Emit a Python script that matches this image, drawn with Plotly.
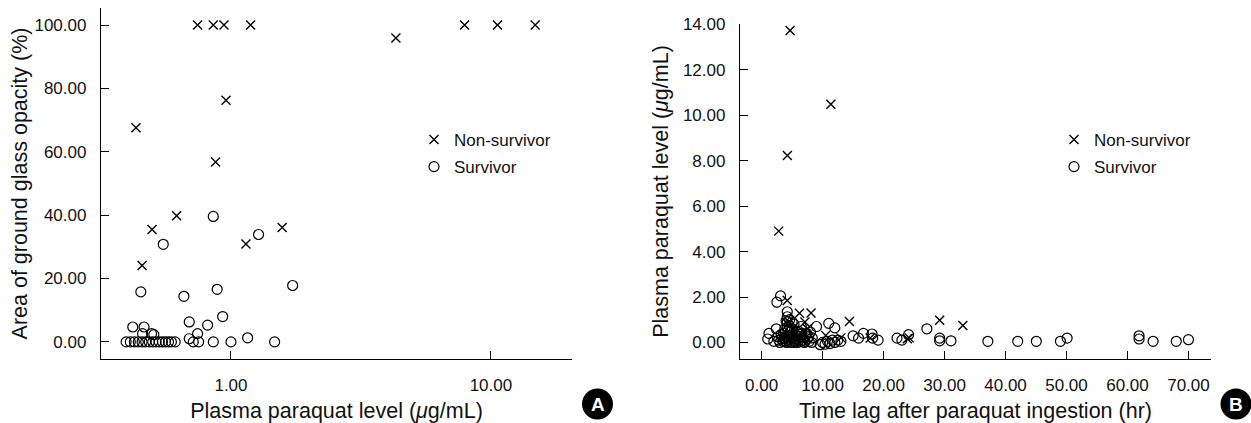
import plotly.graph_objects as go

# ---------------- Panel A data ----------------
a_non_level = [0.431, 0.744, 0.855, 0.940, 1.19, 0.957, 0.873, 0.618, 0.497, 0.455, 1.142, 1.574, 4.31, 7.92, 10.6, 14.8]
a_non_area = [67.6, 100, 100, 100, 100, 76.3, 56.8, 39.8, 35.5, 24.1, 30.9, 36.1, 95.9, 100, 100, 100]

a_sur_level = [0.855, 0.549, 1.277, 0.45, 0.659, 0.885, 1.727, 0.929, 0.691, 0.813, 0.419, 0.463,
               0.457, 0.495, 0.505, 0.744, 0.691, 1.159, 0.716, 0.751, 0.855, 1.0, 1.472,
               0.395, 0.41, 0.425, 0.44, 0.455, 0.47, 0.485, 0.50, 0.515, 0.53, 0.545, 0.56, 0.575, 0.59, 0.61]
a_sur_area = [39.6, 30.8, 33.9, 15.8, 14.4, 16.6, 17.8, 8.0, 6.3, 5.3, 4.7, 4.7,
              2.6, 2.6, 2.3, 2.6, 1.0, 1.3, 0, 0, 0, 0, 0,
              0, 0, 0, 0, 0, 0, 0, 0, 0, 0, 0, 0, 0, 0, 0]

# ---------------- Panel B data ----------------
b_non_time = [4.66, 11.35, 4.22, 2.8, 4.2, 6.2, 8.1, 7.1, 14.4, 29.2, 33.0, 24.2, 17.8, 23.9, 4.5, 5.5, 7.5, 3.5, 10.5, 13.0]
b_non_level = [13.73, 10.49, 8.23, 4.9, 1.85, 1.28, 1.3, 0.9, 0.92, 0.98, 0.75, 0.2, 0.19, 0.16, 0.9, 0.5, 0.6, 0.3, 0.3, 0.2]

b_sur_time = [3.1, 2.5, 4.2, 4.2, 4.2, 4.2, 1.2, 2.4, 1.0, 9.0, 11.0, 12.0, 15.0, 15.9, 16.7, 18.1, 19.1, 18.2,
              22.2, 23.0, 24.1, 27.1, 29.2, 29.2, 31.05, 37.1, 42.0, 45.05, 49.0, 50.1, 61.9, 61.9, 64.2, 68.0, 70.0,
              2.0, 2.6, 3.0, 3.3, 3.6, 3.9, 4.0, 4.3, 4.4, 4.6, 4.8, 5.0, 5.1, 5.3, 5.5, 5.7, 5.9, 6.0, 6.2, 6.4,
              6.6, 6.8, 7.0, 7.2, 7.5, 7.8, 8.0, 8.3, 4.5, 5.3, 3.8, 6.5,
              2.8, 3.2, 3.5, 3.7, 4.1, 4.3, 4.5, 4.7, 4.9, 5.2, 5.4, 5.6, 5.8, 6.1, 6.3, 6.7, 7.1, 7.4, 7.7, 8.2,
              4.0, 4.6, 5.0,
              9.6, 10.0, 10.4, 10.8, 11.2, 11.6, 12.0, 12.5, 13.0]
b_sur_level = [2.05, 1.77, 1.35, 1.13, 0.9, 0.65, 0.4, 0.6, 0.15, 0.7, 0.84, 0.64, 0.29, 0.19, 0.4, 0.37, 0.1, 0.19,
               0.19, 0.1, 0.34, 0.6, 0.19, 0.07, 0.07, 0.05, 0.05, 0.05, 0.05, 0.19, 0.29, 0.15, 0.05, 0.05, 0.12,
               0.05, 0.25, 0.0, 0.15, 0.4, 0.05, 0.25, 0.5, 0.1, 0.3, 0.0, 0.6, 0.2, 0.05, 0.35, 0.15, 0.0, 0.5, 0.25, 0.05,
               0.4, 0.1, 0.0, 0.3, 0.15, 0.05, 0.45, 0.2, 0.75, 0.8, 0.6, 0.7,
               0.1, 0.35, 0.05, 0.2, 0.0, 0.3, 0.15, 0.45, 0.25, 0.1, 0.0, 0.3, 0.45, 0.1, 0.35, 0.2, 0.05, 0.4, 0.25, 0.0,
               0.95, 1.0, 0.9,
               -0.1, 0.0, -0.08, 0.05, -0.05, 0.1, 0.0, 0.1, 0.05]

a_xticks = [1, 10]
a_xticktext = ["1.00", "10.00"]
a_yticks = [0, 20, 40, 60, 80, 100]
b_xticks = [0, 10, 20, 30, 40, 50, 60, 70]
b_yticks = [0, 2, 4, 6, 8, 10, 12, 14]

W, H = 1251, 423
FONT = "Liberation Sans, Arial, Helvetica, sans-serif"

x_marker = dict(symbol="x-thin-open", size=9, color="black", line=dict(color="black", width=1.4))
o_marker = dict(symbol="circle-open", size=10, color="black", line=dict(color="black", width=1.2))

fig = go.Figure()
fig.add_trace(go.Scatter(x=a_non_level, y=a_non_area, mode="markers", marker=x_marker,
                         name="Non-survivor", xaxis="x", yaxis="y", legend="legend", legendgroup="a1"))
fig.add_trace(go.Scatter(x=a_sur_level, y=a_sur_area, mode="markers", marker=o_marker,
                         name="Survivor", xaxis="x", yaxis="y", legend="legend", legendgroup="a2"))
fig.add_trace(go.Scatter(x=b_non_time, y=b_non_level, mode="markers", marker=x_marker,
                         name="Non-survivor", xaxis="x2", yaxis="y2", legend="legend2", legendgroup="b1"))
fig.add_trace(go.Scatter(x=b_sur_time, y=b_sur_level, mode="markers", marker=o_marker,
                         name="Survivor", xaxis="x2", yaxis="y2", legend="legend2", legendgroup="b2"))

axis_common = dict(showline=True, linecolor="black", linewidth=1.3, ticks="inside", ticklen=8,
                   tickcolor="black", tickwidth=1, showgrid=False, zeroline=False, automargin=False,
                   tickfont=dict(family=FONT, size=17, color="#111"), ticklabelstandoff=10)

def px_x(p):
    return p / W

def px_y(p):
    return 1 - p / H

fig.update_layout(
    width=W, height=H,
    margin=dict(l=0, r=0, t=0, b=0, autoexpand=False),
    paper_bgcolor="white", plot_bgcolor="white",
    font=dict(family=FONT, size=17, color="#111"),
    xaxis=dict(axis_common, type="log", range=[-0.5, 1.312], tickvals=a_xticks, ticktext=a_xticktext,
               domain=[px_x(101), px_x(572)], anchor="y",
               title=dict(text="Plasma paraquat level (<i>μ</i>g/mL)", font=dict(family=FONT, size=21.5), standoff=10)),
    yaxis=dict(axis_common, range=[-5.4, 105.4], tickvals=a_yticks, tickformat=".2f",
               domain=[px_y(359), px_y(8)], anchor="x",
               title=dict(text="Area of ground glass opacity (%)", font=dict(family=FONT, size=21.5), standoff=0)),
    xaxis2=dict(axis_common, range=[-3.55, 73.7], tickvals=b_xticks, tickformat=".2f",
                domain=[px_x(740), px_x(1211)], anchor="y2",
                title=dict(text="Time lag after paraquat ingestion (hr)", font=dict(family=FONT, size=21.5), standoff=10)),
    yaxis2=dict(axis_common, range=[-0.73, 14.02], tickvals=b_yticks, tickformat=".2f",
                domain=[px_y(359), px_y(24)], anchor="x2",
                title=dict(text="Plasma paraquat level (<i>μ</i>g/mL)", font=dict(family=FONT, size=21.5), standoff=8)),
    legend=dict(x=px_x(414), y=px_y(122), xanchor="left", yanchor="top", bgcolor="rgba(0,0,0,0)",
                font=dict(family=FONT, size=17), tracegroupgap=2, traceorder="grouped"),
    legend2=dict(x=px_x(1054), y=px_y(122), xanchor="left", yanchor="top", bgcolor="rgba(0,0,0,0)",
                 font=dict(family=FONT, size=17), tracegroupgap=2, traceorder="grouped"),
    showlegend=True,
)

# Panel badges A and B
for cx, cy, letter in [(597.5, 404, "A"), (1236, 404, "B")]:
    r = 15.5
    fig.add_shape(type="circle", xref="paper", yref="paper",
                  x0=px_x(cx - r), x1=px_x(cx + r), y0=px_y(cy + r), y1=px_y(cy - r),
                  fillcolor="black", line=dict(color="black", width=0))
    fig.add_annotation(x=px_x(cx), y=px_y(cy), xref="paper", yref="paper", text="<b>" + letter + "</b>",
                       showarrow=False, font=dict(family=FONT, size=19, color="white"),
                       xanchor="center", yanchor="middle")

fig.write_html("out.html", config={"displayModeBar": False},
               post_script="document.body.style.margin='0';document.body.style.overflow='hidden';")
